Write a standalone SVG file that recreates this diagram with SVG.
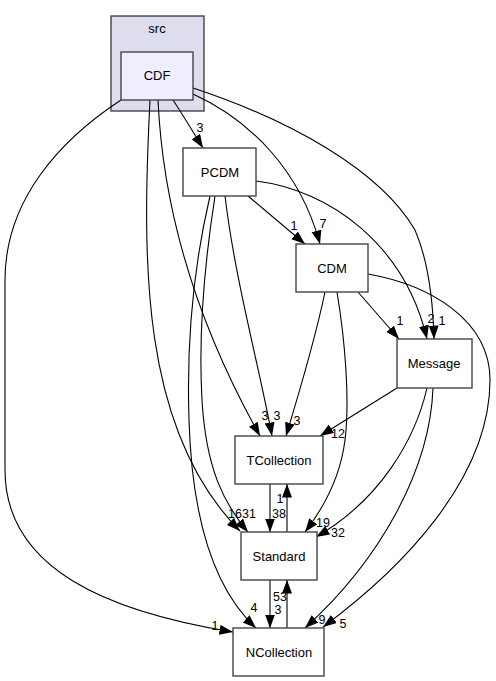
<svg xmlns="http://www.w3.org/2000/svg" width="496" height="681" viewBox="0 0 496 681">
<defs>
<marker id="ah" markerUnits="userSpaceOnUse" markerWidth="15" markerHeight="11" refX="13.5" refY="5" orient="auto">
<path d="M0,0 L13.5,5 L0,10 z" fill="#000"/>
</marker>
</defs>
<style>
.node rect{fill:#fff;stroke:#444;stroke-width:1.4}
.nt{font-family:"Liberation Sans",Arial,sans-serif;font-size:13px;fill:#000;text-anchor:middle}
.el{font-family:"Liberation Sans",Arial,sans-serif;font-size:12.5px;fill:#000;text-anchor:middle}
#edges path{fill:none;stroke:#000;stroke-width:1.1;marker-end:url(#ah)}
</style>
<rect width="496" height="681" fill="#fff"/>
<g id="cluster_src">
<rect x="111" y="16" width="93" height="95" fill="#ddddee" stroke="#444" stroke-width="1.4"/>
<text class="nt" x="157" y="33">src</text>
</g>
<g id="edges">
<path d="M173,100 C183,115 193,132 203,148"/>
<path d="M193,94 C250,120 300,170 320,244"/>
<path d="M193,88 C290,120 380,170 415,230 C428,260 433,300 434,339"/>
<path d="M158,100 C163,210 195,320 260,436"/>
<path d="M150,100 C142,260 140,430 240,531"/>
<path d="M121,100 C60,140 5,200 5,280 L5,470 C5,570 110,612 233,632"/>
<path d="M248,196 L305,244"/>
<path d="M256,181 C330,190 405,245 427,339"/>
<path d="M225,196 C235,280 260,370 272,436"/>
<path d="M215,196 C205,260 198,330 202,400 C206,470 225,505 248,532"/>
<path d="M210,196 C195,260 186,330 189,420 C192,520 215,590 256,628"/>
<path d="M358,292 L399,339"/>
<path d="M325,292 C315,340 300,390 286,436"/>
<path d="M337,292 C345,340 350,400 345,440 C340,480 322,510 305,532"/>
<path d="M368,274 C430,285 490,320 490,380 C490,480 400,570 323,627"/>
<path d="M397,388 L320,436"/>
<path d="M427,388 C415,440 380,500 316,537"/>
<path d="M433,388 C430,470 380,560 305,628"/>
<path d="M270,484 L270,532"/>
<path d="M287,532 L287,484"/>
<path d="M270,580 L270,628"/>
<path d="M287,628 L287,580"/>
<text class="el" x="200" y="132">3</text>
<text class="el" x="323" y="228">7</text>
<text class="el" x="442" y="325">1</text>
<text class="el" x="265" y="420">3</text>
<text class="el" x="235" y="518">16</text>
<text class="el" x="215" y="630">1</text>
<text class="el" x="294" y="230">1</text>
<text class="el" x="431" y="323">2</text>
<text class="el" x="277" y="420">3</text>
<text class="el" x="249" y="518">31</text>
<text class="el" x="254" y="612">4</text>
<text class="el" x="400" y="325">1</text>
<text class="el" x="297" y="425">3</text>
<text class="el" x="323" y="527">19</text>
<text class="el" x="343" y="628">5</text>
<text class="el" x="338" y="438">12</text>
<text class="el" x="338" y="537">32</text>
<text class="el" x="322" y="624">9</text>
<text class="el" x="279" y="518">38</text>
<text class="el" x="280" y="503">1</text>
<text class="el" x="278" y="614">3</text>
<text class="el" x="280" y="601">53</text>
</g>
<g id="CDF" class="node">
<rect x="121" y="52" width="72" height="48" style="fill:#eeeeff"/>
<text class="nt" x="157" y="80">CDF</text>
</g>
<g id="PCDM" class="node">
<rect x="183" y="148" width="73" height="48"/>
<text class="nt" x="220" y="177">PCDM</text>
</g>
<g id="CDM" class="node">
<rect x="296" y="244" width="72" height="48"/>
<text class="nt" x="332" y="273">CDM</text>
</g>
<g id="Message" class="node">
<rect x="397" y="339" width="75" height="49"/>
<text class="nt" x="434" y="368">Message</text>
</g>
<g id="TCollection" class="node">
<rect x="235" y="436" width="88" height="48"/>
<text class="nt" x="279" y="465">TCollection</text>
</g>
<g id="Standard" class="node">
<rect x="241" y="532" width="76" height="48"/>
<text class="nt" x="279" y="561">Standard</text>
</g>
<g id="NCollection" class="node">
<rect x="233" y="628" width="91" height="48"/>
<text class="nt" x="279" y="657">NCollection</text>
</g>
</svg>
